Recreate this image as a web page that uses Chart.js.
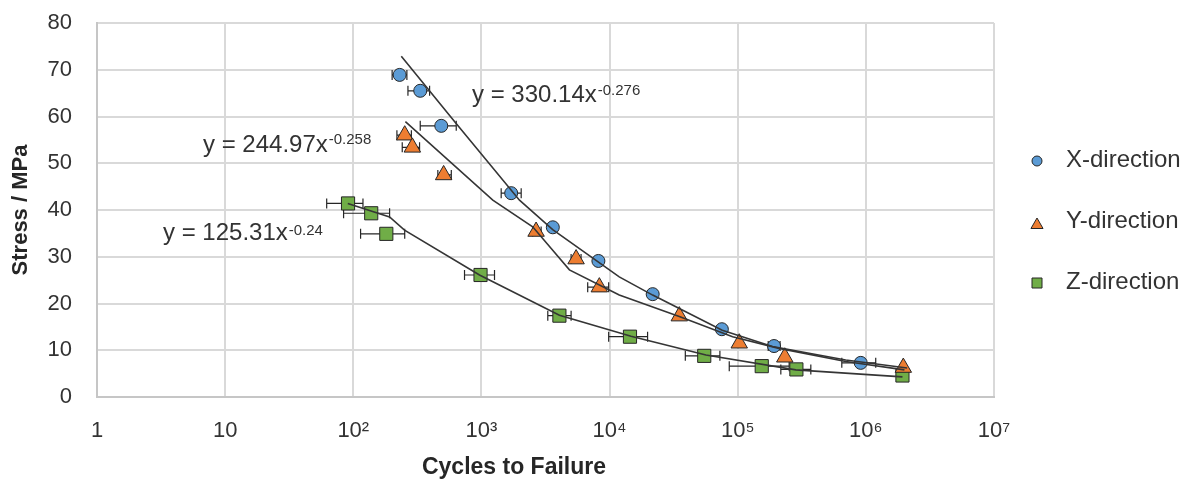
<!DOCTYPE html>
<html><head><meta charset="utf-8">
<script src="https://cdn.jsdelivr.net/npm/chart.js@4.4.1/dist/chart.umd.min.js"></script>
<style>html,body{margin:0;padding:0;background:#fff;} #wrap{width:1191px;height:482px;}</style>
</head><body><div id="wrap"><canvas id="c" width="1191" height="482"></canvas></div>
<script>
// ---------- data ----------
const seriesNames = ['X-direction', 'Y-direction', 'Z-direction'];

const xCycles = [230, 333, 486, 1707, 3606, 8180, 21700, 75200, 192000, 912000];
const xStress = [68.9, 65.5, 58.0, 43.6, 36.3, 29.1, 22.0, 14.5, 10.9, 7.3];
const xErrLow  = [201, 267, 333, 1426, null, null, null, null, 173000, 649000];
const xErrHigh = [262, 394, 636, 2043, null, null, null, null, 214000, 1194000];

const yCycles = [252, 289, 507, 2670, 5480, 8320, 35000, 102800, 233000, 1960000];
const yStress = [56.0, 53.4, 47.5, 35.4, 29.5, 23.5, 17.3, 11.5, 8.5, 6.3];
const yErrLow  = [219, 241, 457, 2512, 5010, 6750, null, null, null, null];
const yErrHigh = [284, 329, 582, 2924, 5990, 9840, null, null, null, null];

const zCycles = [91, 138, 181, 984, 4060, 14430, 54800, 154000, 287000, 1930000];
const zStress = [41.4, 39.3, 34.9, 26.1, 17.4, 12.9, 8.8, 6.6, 5.9, 4.6];
const zErrLow  = [62, 84, 114, 738, 3295, 9840, 39000, 85900, 217000, null];
const zErrHigh = [119, 192, 252, 1265, 5010, 19800, 72600, 252000, 372000, null];

// trend lines (vertices)
const xTrendCycles = [237, 635, 1982, 3600, 11900, 21700, 75700, 186600, 696600, 2100000];
const xTrendStress = [72.9, 58.5, 42.1, 35.8, 25.7, 21.8, 14.3, 10.8, 7.9, 6.2];
const yTrendCycles = [255, 1227, 2512, 4860, 11900, 35000, 91200, 210000, 697000, 2000000];
const yTrendStress = [58.9, 42.1, 36.4, 27.2, 21.8, 17.2, 12.9, 10.4, 7.6, 5.8];
const zTrendCycles = [90.6, 192, 251, 966, 4060, 14700, 56500, 284000, 1930000];
const zTrendStress = [41.4, 38.5, 35.7, 26.1, 17.5, 13.0, 9.0, 5.8, 4.3];

const eqBase = ['y = 330.14x', 'y = 244.97x', 'y = 125.31x'];
const eqExp  = ['-0.276', '-0.258', '-0.24'];

const xTickValues = [1, 10, 100, 1000, 10000, 100000, 1000000, 10000000];
const xTickLabels = ['1', '10', '10²', '10³', '10⁴', '10⁵', '10⁶', '10⁷'];
const yTickValues = [0, 10, 20, 30, 40, 50, 60, 70, 80];

const xAxisTitle = 'Cycles to Failure';
const yAxisTitle = 'Stress / MPa';

// ---------- helpers ----------
const FONT = '"Liberation Sans", Arial, sans-serif';
const colors = ['#5b9bd5', '#ed7d31', '#70ad47'];
const styles = ['circle', 'triangle', 'rect'];
const radii = [6.5, 9.5, 9.3];
const pts = (xs, ys) => xs.map((v, i) => ({x: v, y: ys[i]}));

function markerDataset(i, xs, ys, lo, hi) {
  return {
    label: seriesNames[i], data: pts(xs, ys), showLine: false,
    pointStyle: styles[i], pointRadius: radii[i], pointHoverRadius: radii[i],
    backgroundColor: colors[i], borderColor: '#262626', borderWidth: 1,
    order: 1, errLow: lo, errHigh: hi
  };
}
function trendDataset(xs, ys) {
  return {
    label: 'trend', data: pts(xs, ys), showLine: true, pointRadius: 0,
    borderColor: '#353535', borderWidth: 1.6, fill: false, tension: 0, order: 0
  };
}

const errorBarPlugin = {
  id: 'errorBars',
  beforeDatasetsDraw(chart) {
    const ctx = chart.ctx, xs = chart.scales.x;
    ctx.save();
    ctx.strokeStyle = '#262626'; ctx.lineWidth = 1.2;
    chart.data.datasets.forEach((ds, di) => {
      if (!ds.errLow) return;
      const meta = chart.getDatasetMeta(di);
      meta.data.forEach((el, i) => {
        const lo = ds.errLow[i], hi = ds.errHigh[i];
        if (lo == null || hi == null) return;
        const x1 = xs.getPixelForValue(lo), x2 = xs.getPixelForValue(hi), y = el.y;
        ctx.beginPath();
        ctx.moveTo(x1, y); ctx.lineTo(x2, y);
        ctx.moveTo(x1, y - 5); ctx.lineTo(x1, y + 5);
        ctx.moveTo(x2, y - 5); ctx.lineTo(x2, y + 5);
        ctx.stroke();
      });
    });
    ctx.restore();
  }
};

function drawMarker(ctx, style, x, y, r, fill) {
  ctx.beginPath();
  if (style === 'circle') ctx.arc(x, y, r, 0, Math.PI * 2);
  else if (style === 'triangle') {
    ctx.moveTo(x, y - r); ctx.lineTo(x + r * 0.866, y + r * 0.5); ctx.lineTo(x - r * 0.866, y + r * 0.5); ctx.closePath();
  } else ctx.rect(x - r, y - r, 2 * r, 2 * r);
  ctx.fillStyle = fill; ctx.fill();
  ctx.strokeStyle = '#262626'; ctx.lineWidth = 1; ctx.stroke();
}

const annotationPlugin = {
  id: 'annotations',
  afterDraw(chart) {
    const ctx = chart.ctx;
    ctx.save();
    // equations
    const eqPos = [[472, 102, 95], [203, 152, 144], [163, 240, 235]];
    ctx.fillStyle = '#333';
    ctx.textAlign = 'left'; ctx.textBaseline = 'alphabetic';
    eqBase.forEach((t, i) => {
      const [x, yb, ys] = eqPos[i];
      ctx.font = '24px ' + FONT;
      ctx.fillText(t, x, yb);
      const w = ctx.measureText(t).width;
      ctx.font = '15px ' + FONT;
      ctx.fillText(eqExp[i], x + w + 1, ys);
    });
    // x axis title
    ctx.fillStyle = '#262626';
    ctx.font = 'bold 23px ' + FONT;
    ctx.textAlign = 'center';
    ctx.fillText(xAxisTitle, 514, 474);
    // legend
    const legY = [160, 221, 282];
    const legR = [5, 7, 5];
    seriesNames.forEach((n, i) => {
      drawMarker(ctx, styles[i], 1037, legY[i] + (i === 1 ? 4 : 1), legR[i], colors[i]);
      ctx.fillStyle = '#333';
      ctx.font = '24px ' + FONT;
      ctx.textAlign = 'left'; ctx.textBaseline = 'middle';
      ctx.fillText(n, 1066, legY[i]);
    });
    ctx.restore();
  }
};

new Chart(document.getElementById('c'), {
  type: 'scatter',
  data: {
    datasets: [
      markerDataset(0, xCycles, xStress, xErrLow, xErrHigh),
      markerDataset(1, yCycles, yStress, yErrLow, yErrHigh),
      markerDataset(2, zCycles, zStress, zErrLow, zErrHigh),
      trendDataset(xTrendCycles, xTrendStress),
      trendDataset(yTrendCycles, yTrendStress),
      trendDataset(zTrendCycles, zTrendStress)
    ]
  },
  options: {
    responsive: false, animation: false, devicePixelRatio: 1,
    layout: {padding: {left: 0, right: 197, top: 23, bottom: 0}},
    plugins: {legend: {display: false}, tooltip: {enabled: false}},
    scales: {
      x: {
        type: 'logarithmic', min: 1, max: 10000000,
        afterBuildTicks(scale) { scale.ticks = xTickValues.map(v => ({value: v, major: true})); },
        afterFit(scale) { scale.height = 85; scale.paddingLeft = 0; scale.paddingRight = 0; },
        ticks: {
          autoSkip: false, maxRotation: 0, padding: 21, color: '#333',
          font: {family: FONT, size: 22},
          callback: (v, i) => xTickLabels[i]
        },
        grid: {color: '#d9d9d9', lineWidth: 2, drawTicks: false},
        border: {color: '#c6c6c6', width: 2}
      },
      y: {
        type: 'linear', min: 0, max: 80,
        afterBuildTicks(scale) { scale.ticks = yTickValues.map(v => ({value: v})); },
        afterFit(scale) { scale.width = 97; scale.paddingTop = 0; scale.paddingBottom = 0; },
        ticks: {padding: 25, color: '#333', font: {family: FONT, size: 22}},
        grid: {color: '#d9d9d9', lineWidth: 2, drawTicks: false},
        border: {color: '#c6c6c6', width: 2},
        title: {display: true, text: yAxisTitle, color: '#262626',
                font: {family: FONT, size: 22, weight: 'bold'}, padding: {top: 8, bottom: 0}}
      }
    }
  },
  plugins: [errorBarPlugin, annotationPlugin]
});
</script></body></html>
